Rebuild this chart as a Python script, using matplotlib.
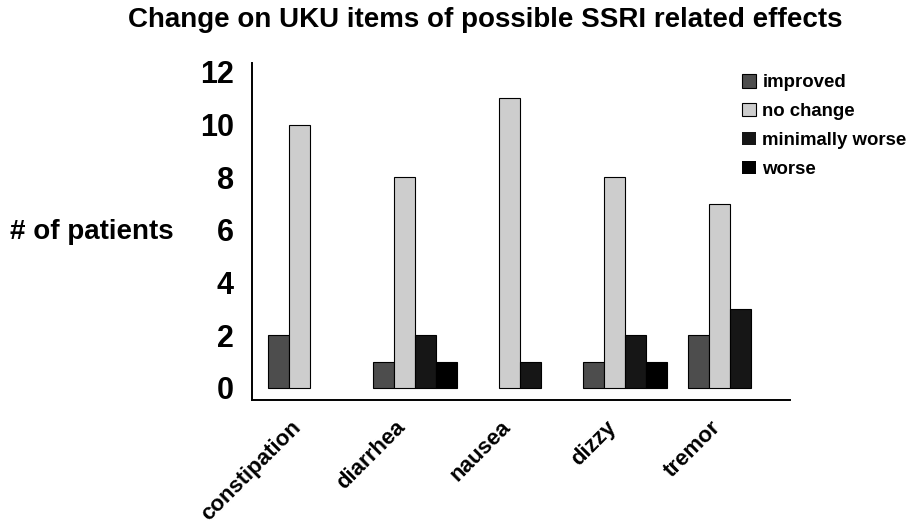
import matplotlib
import numpy as np

matplotlib.use("Agg")

import matplotlib.pyplot as plt  # noqa: E402

plt.rcParams["font.family"] = ["Liberation Sans", "DejaVu Sans"]
plt.rcParams["font.weight"] = "bold"

categories = ["constipation", "diarrhea", "nausea", "dizzy", "tremor"]
series_names = ["improved", "no change", "minimally worse", "worse"]
improved = [2, 1, 0, 1, 2]
no_change = [10, 8, 11, 8, 7]
minimally_worse = [0, 2, 1, 2, 3]
worse = [0, 1, 0, 1, 0]
y_ticks = [0, 2, 4, 6, 8, 10, 12]

SERIES_COLORS = ["#4d4d4d", "#cdcdcd", "#161616", "#000000"]
BAR_W = 0.2
LABEL_SHIFT = -0.19  # rotated labels end a little left of the group centre

fig = plt.figure(figsize=(9.12, 5.32), dpi=100)
ax = fig.add_axes([252 / 912, 132 / 532, 538 / 912, 337 / 532])

x = np.arange(len(categories))
all_series = [improved, no_change, minimally_worse, worse]
for i, (name, vals) in enumerate(zip(series_names, all_series)):
    offs = (i - 1.5) * BAR_W
    # zero-height bars in the original leave no outline on the baseline
    lws = [0.8 if v > 0 else 0 for v in vals]
    ax.bar(x + offs, vals, width=BAR_W, color=SERIES_COLORS[i],
           edgecolor="black", linewidth=lws, label=name)

ax.set_xlim(-0.552, 4.571)
ax.set_ylim(-0.456, 12.34)
ax.set_yticks(y_ticks)
ax.set_yticklabels([str(v) for v in y_ticks], fontsize=22, fontweight="bold")
ax.set_xticks(x + LABEL_SHIFT)
ax.set_xticklabels(categories, fontsize=16, fontweight="bold",
                   rotation=45, ha="right", va="top", rotation_mode="anchor")
ax.tick_params(axis="both", length=0)
ax.tick_params(axis="y", pad=13)
ax.tick_params(axis="x", pad=12)

for side in ("top", "right"):
    ax.spines[side].set_visible(False)
for side in ("left", "bottom"):
    ax.spines[side].set_linewidth(1.4)

fig.text(485 / 912, 1 - 27 / 532, "Change on UKU items of possible SSRI related effects",
         ha="center", va="baseline", fontsize=20, fontweight="bold")
fig.text(10 / 912, 1 - 232 / 532, "# of patients",
         ha="left", va="center", fontsize=20, fontweight="bold")

fig.legend(loc="upper left", bbox_to_anchor=(742 / 912, 1 - 74 / 532),
           frameon=False, fontsize=13.4, handlelength=0.75, handleheight=0.75,
           handletextpad=0.35, labelspacing=0.62, borderaxespad=0, borderpad=0)

fig.savefig("out.png", dpi=100, facecolor="white")
